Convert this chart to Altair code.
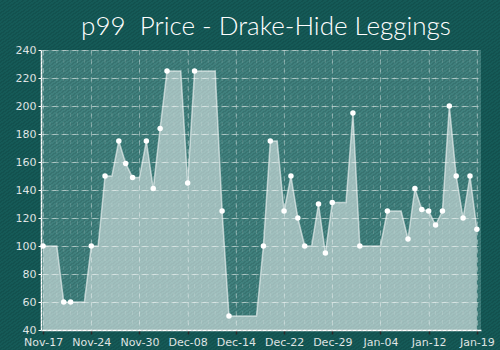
import json
import altair as alt
import pandas as pd

# ---- data ----
day_index = list(range(64))
price = [100, 100, 100, 60, 60, 60, 60, 100, 100, 150,
         150, 175, 159, 149, 149, 175, 141, 184, 225, 225,
         225, 145, 225, 225, 225, 225, 125, 50, 50, 50,
         50, 50, 100, 175, 175, 125, 150, 120, 100, 100,
         130, 95, 131, 131, 131, 195, 100, 100, 100, 100,
         125, 125, 125, 105, 141, 126, 125, 115, 125, 200,
         150, 120, 150, 112]
marker_days = [0, 3, 4, 7, 9, 11, 12, 13, 15, 16, 17, 18, 21, 22, 26, 27, 32, 33,
               35, 36, 37, 38, 40, 41, 42, 45, 46, 50, 53, 54, 55, 56, 57, 58,
               59, 60, 61, 62, 63]
tick_days = [0, 7, 14, 21, 28, 35, 42, 49, 56, 63]
tick_labels = ["Nov-17", "Nov-24", "Nov-30", "Dec-08", "Dec-14",
               "Dec-22", "Dec-29", "Jan-04", "Jan-12", "Jan-19"]
y_ticks = [40, 60, 80, 100, 120, 140, 160, 180, 200, 220, 240]

df = pd.DataFrame({
    "day": day_index,
    "price": price,
    "marker": [d in marker_days for d in day_index],
})

label_expr = json.dumps(tick_labels) + "[round(datum.value / 7)]"

# layout (plot area and padding)
PAD_L, PAD_T, PAD_R, PAD_B = 41, 50, 19, 20
PLOT_W, PLOT_H = 440, 280

# diagonal hatching over the whole picture (decorative gradient, mostly transparent)
n_stripes = 200
clear = "rgba(0,0,0,0)"
shade = "rgba(0,20,20,0.12)"
stops = []
for i in range(n_stripes):
    a = i / n_stripes
    b = (i + 0.55) / n_stripes
    c = (i + 1) / n_stripes
    stops += [
        alt.GradientStop(offset=a, color=clear),
        alt.GradientStop(offset=b, color=clear),
        alt.GradientStop(offset=b, color=shade),
        alt.GradientStop(offset=c, color=shade),
    ]
hatch_fill = alt.LinearGradient(gradient="linear", stops=stops, x1=0, y1=0, x2=1, y2=1)

xscale = alt.Scale(domain=[-0.3, 63.6], nice=False, zero=False)
yscale = alt.Scale(domain=[40, 240], nice=False, zero=False)

x_axis = alt.Axis(values=tick_days, labelExpr=label_expr, title=None,
                  grid=True, gridColor="#ffffff", gridOpacity=0.35,
                  gridDash=[5, 4], domainColor="#ffffff", domainWidth=1.5,
                  tickColor="#2b2b2b", tickSize=4, tickWidth=1.5,
                  labelColor="#e8eeee", labelFont="DejaVu Sans",
                  labelFontSize=11, labelPadding=2, labelOverlap=False)
y_axis = alt.Axis(values=y_ticks, title=None, grid=True,
                  gridColor="#ffffff", gridOpacity=0.55, gridDash=[7, 3],
                  domainColor="#ffffff", domainWidth=1.5,
                  tickColor="#ffffff", tickSize=3,
                  labelColor="#e8eeee", labelFont="DejaVu Sans",
                  labelFontSize=11, labelPadding=2, labelOverlap=False)

x_enc = alt.X("day:Q", scale=xscale, axis=x_axis)
y_enc = alt.Y("price:Q", scale=yscale, axis=y_axis)

base = alt.Chart(df)

hatch = alt.Chart(pd.DataFrame({"k": [0]})).mark_rect(fill=hatch_fill).encode(
    x=alt.value(-PAD_L), x2=alt.value(PLOT_W + PAD_R),
    y=alt.value(-PAD_T), y2=alt.value(PLOT_H + PAD_B),
)
minor = base.mark_rule(color="#ffffff", opacity=0.14, strokeDash=[4, 5], strokeWidth=1).encode(
    x=x_enc
)
area = base.mark_area(color="#ffffff", opacity=0.5, clip=True).encode(x=x_enc, y=y_enc)
line = base.mark_line(color="#ffffff", opacity=0.55, strokeWidth=1.5).encode(x=x_enc, y=y_enc)
points = base.transform_filter("datum.marker").mark_circle(
    color="#ffffff", opacity=1, size=30).encode(x=x_enc, y=y_enc)

chart = alt.layer(hatch, area, minor, line, points).properties(
    width=PLOT_W,
    height=PLOT_H,
    autosize=alt.AutoSizeParams(type="none"),
    padding={"left": PAD_L, "top": PAD_T, "right": PAD_R, "bottom": PAD_B},
    background="#155a57",
    title=alt.TitleParams(
        "p99\u00a0 Price - Drake-Hide Leggings",
        font="Lato", fontWeight=300, fontSize=26, color="#ffffff",
        anchor="middle", frame="group", baseline="alphabetic", offset=-61, dx=5,
    ),
).configure_view(fill="#40807d", stroke=None)

chart.save("out.html", embed_options={"renderer": "svg", "actions": False})
